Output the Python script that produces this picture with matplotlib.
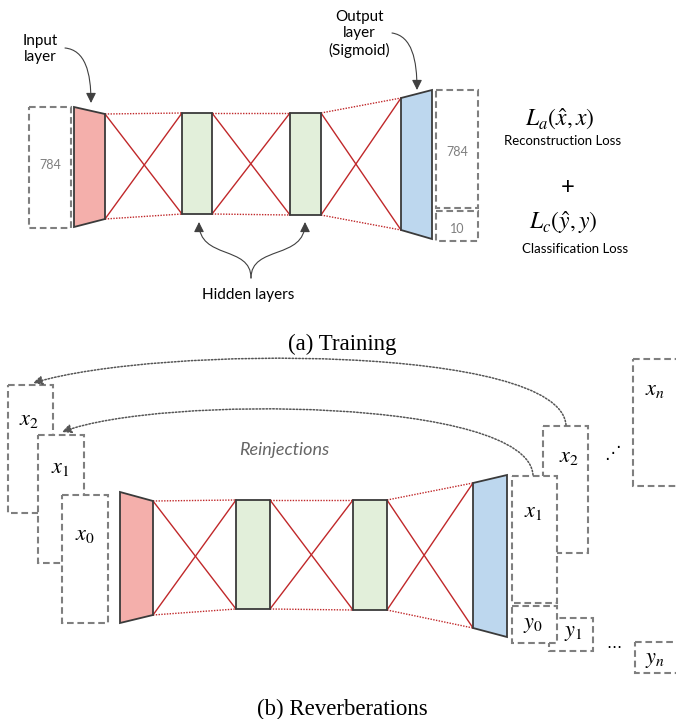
import numpy as np
import matplotlib
matplotlib.use("Agg")
import matplotlib.pyplot as plt
from matplotlib.patches import Polygon, Rectangle, FancyArrowPatch
from matplotlib.path import Path

plt.rcParams['mathtext.fontset'] = 'stix'

# --- content ---
input_size = "784"
output_sizes = ["784", "10"]
top_labels = ["Input\nlayer", "Output\nlayer\n(Sigmoid)", "Hidden layers"]
loss_terms = [r"$L_a(\hat{x},x)$", r"$L_c(\hat{y},y)$"]
loss_names = ["Reconstruction Loss", "Classification Loss"]
in_labels = [r"$x_2$", r"$x_1$", r"$x_0$"]
out_x_labels = [r"$x_2$", r"$x_1$", r"$x_n$"]
out_y_labels = [r"$y_1$", r"$y_0$", r"$y_n$"]
captions = ["(a) Training", "(b) Reverberations"]

RED = "#C0282A"
EDGE = "#3a3a3a"
GRAY = "#7F7F7F"
PINK = "#F4AFAB"
GREEN = "#E2EFDA"
BLUE = "#BDD7EE"
SANS = "Lato"

fig = plt.figure(figsize=(6.76, 7.19), dpi=100)
ax = fig.add_axes([0, 0, 1, 1])
ax.set_xlim(0, 676)
ax.set_ylim(719, 0)
ax.axis("off")


def dbox(x0, x1, y0, y1, z=2):
    ax.add_patch(Rectangle((x0, y0), x1 - x0, y1 - y0, facecolor="white",
                           edgecolor=GRAY, lw=1.5, ls=(0, (3.2, 1.8)), zorder=z))


def trap(xl, yl, xr, yr, color):
    pts = [(xl, yl[0]), (xr, yr[0]), (xr, yr[1]), (xl, yl[1])]
    ax.add_patch(Polygon(pts, closed=True, facecolor=color, edgecolor=EDGE,
                         lw=1.3, zorder=3))


def rect(x0, x1, y0, y1):
    ax.add_patch(Rectangle((x0, y0), x1 - x0, y1 - y0, facecolor=GREEN,
                           edgecolor=EDGE, lw=1.3, zorder=3))


def connect(xa, ya, xb, yb):
    # dotted top/bottom, solid cross
    ax.plot([xa, xb], [ya[0], yb[0]], color=RED, lw=1.0, ls=(0, (1, 1)), zorder=2)
    ax.plot([xa, xb], [ya[1], yb[1]], color=RED, lw=1.0, ls=(0, (1, 1)), zorder=2)
    ax.plot([xa, xb], [ya[0], yb[1]], color=RED, lw=1.0, zorder=2)
    ax.plot([xa, xb], [ya[1], yb[0]], color=RED, lw=1.0, zorder=2)


def network(inp, h1, h2, out):
    trap(inp[0], inp[1], inp[2], inp[3], PINK)
    rect(*h1)
    rect(*h2)
    trap(out[0], out[1], out[2], out[3], BLUE)
    connect(inp[2], inp[3], h1[0], (h1[2], h1[3]))
    connect(h1[1], (h1[2], h1[3]), h2[0], (h2[2], h2[3]))
    connect(h2[1], (h2[2], h2[3]), out[0], out[1])


def curve(pts, color, ls="-", lw=1.0, ms=10):
    codes = [Path.MOVETO, Path.CURVE4, Path.CURVE4, Path.CURVE4]
    ax.add_patch(FancyArrowPatch(path=Path(pts, codes), arrowstyle="-|>,head_length=0.6,head_width=0.3",
                                 mutation_scale=ms, color=color, lw=lw, ls=ls, zorder=5))


# ---------------- (a) Training ----------------
network((74, (107, 227), 105, (114, 219)),
        (182, 212, 113, 214),
        (290, 321, 113, 215),
        (401, (98, 230), 432, (90, 239)))

dbox(29, 71, 107, 228)
ax.text(50, 165, input_size, color=GRAY, fontsize=9, family=SANS, ha="center", va="center")
dbox(436, 478, 90, 208)
dbox(436, 478, 211, 241)
ax.text(457, 152, output_sizes[0], color=GRAY, fontsize=9, family=SANS, ha="center", va="center")
ax.text(457, 229, output_sizes[1], color=GRAY, fontsize=9, family=SANS, ha="center", va="center")

ax.text(40, 49, top_labels[0], fontsize=11, family=SANS, ha="center", va="center", linespacing=1.25)
ax.text(359, 34, top_labels[1], fontsize=11, family=SANS, ha="center", va="center", linespacing=1.25)
ax.text(248, 295, top_labels[2], fontsize=11, family=SANS, ha="center", va="center")

curve([(65, 48), (85, 50), (91, 72), (91, 103)], "#404040", lw=0.8)
curve([(392, 33), (412, 36), (417, 60), (417, 90)], "#404040", lw=0.8)
curve([(251, 278), (251, 245), (199, 260), (199, 222)], "#404040", lw=0.8)
curve([(251, 278), (251, 245), (305, 260), (305, 222)], "#404040", lw=0.8)

ax.text(560, 119, loss_terms[0], fontsize=17, ha="center", va="center")
ax.text(563, 141, loss_names[0], fontsize=9.5, family=SANS, ha="center", va="center")
ax.text(568, 187, "+", fontsize=17, family=SANS, ha="center", va="center")
ax.text(563, 223, loss_terms[1], fontsize=17, ha="center", va="center")
ax.text(575, 249, loss_names[1], fontsize=9.5, family=SANS, ha="center", va="center")

ax.text(342, 344, captions[0], fontsize=16.5, family="Liberation Serif", ha="center", va="center")

# ---------------- (b) Reverberations ----------------
network((120, (492, 623), 153, (501, 615)),
        (236, 270, 500, 609),
        (353, 387, 500, 610),
        (473, (483, 628), 507, (475, 637)))

dbox(8, 53, 385, 513, z=2)
dbox(38, 84, 435, 563, z=2.1)
dbox(62, 108, 495, 623, z=2.2)
ax.text(29, 420, in_labels[0], fontsize=16, ha="center", va="center", zorder=6)
ax.text(60, 468, in_labels[1], fontsize=16, ha="center", va="center", zorder=6)
ax.text(85, 535, in_labels[2], fontsize=16, ha="center", va="center", zorder=6)

dbox(543, 588, 426, 553, z=2)
dbox(512, 557, 476, 603, z=2.1)
dbox(633, 700, 359, 486, z=2)
dbox(549, 593, 618, 651, z=2)
dbox(512, 557, 606, 643, z=2.1)
dbox(635, 700, 642, 673, z=2)
ax.text(569, 457, out_x_labels[0], fontsize=16, ha="center", va="center", zorder=6)
ax.text(533, 512, out_x_labels[1], fontsize=16, ha="center", va="center", zorder=6)
ax.text(655, 390, out_x_labels[2], fontsize=16, ha="center", va="center", zorder=6)
ax.text(573, 633, out_y_labels[0], fontsize=16, ha="center", va="center", zorder=6)
ax.text(533, 625, out_y_labels[1], fontsize=16, ha="center", va="center", zorder=6)
ax.text(655, 660, out_y_labels[2], fontsize=16, ha="center", va="center", zorder=6)
ax.text(612, 453, "\u22f0", fontsize=12, family="DejaVu Sans", ha="center", va="center")
ax.text(614, 644, "\u2026", fontsize=11, family="DejaVu Sans", ha="center", va="center")

curve([(566, 425), (560, 345), (160, 345), (33, 383)], "#555555", ls=(0, (1, 1.2)), lw=1.1, ms=9)
curve([(533, 475), (528, 398), (160, 395), (62, 432)], "#555555", ls=(0, (1, 1.2)), lw=1.1, ms=9)
ax.text(284, 450, "Reinjections", fontsize=13, family=SANS, style="italic",
        color="#666666", ha="center", va="center")

ax.text(342, 709, captions[1], fontsize=16.5, family="Liberation Serif", ha="center", va="center")

fig.savefig("out.png", dpi=100)
